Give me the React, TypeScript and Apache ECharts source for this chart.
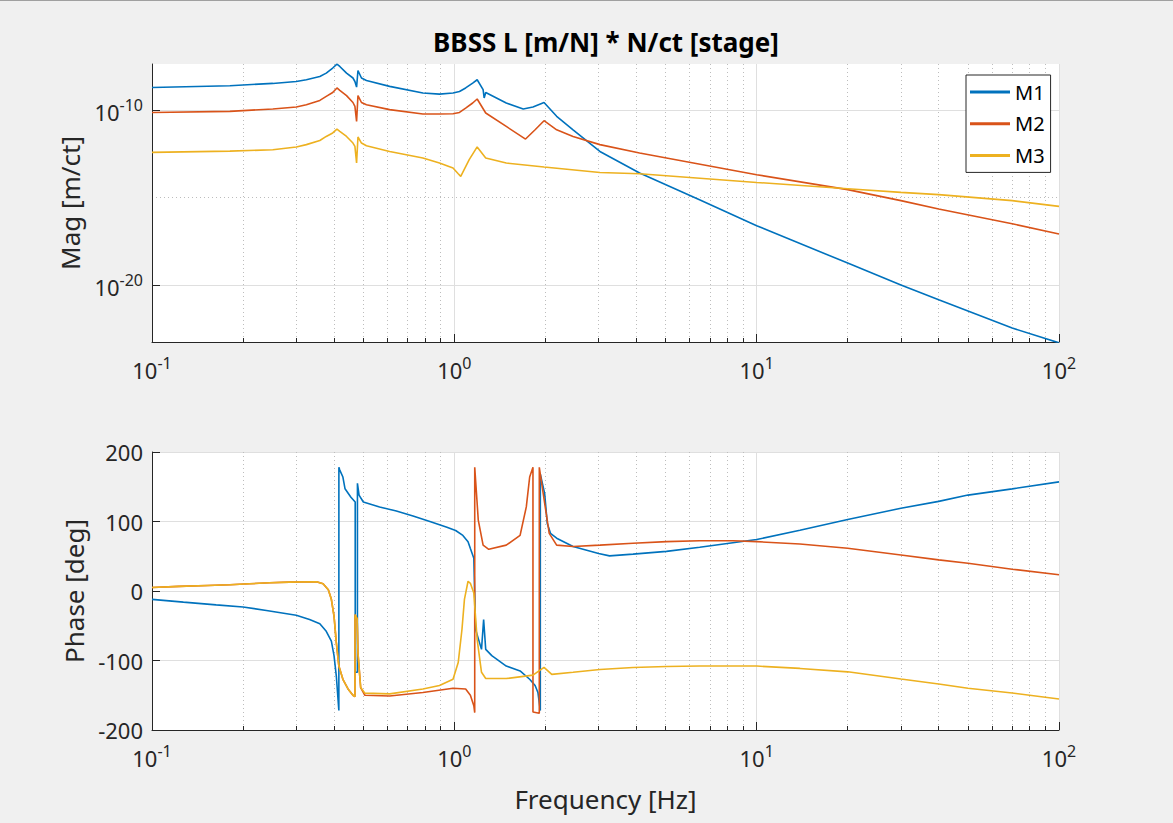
import React, { useEffect, useRef } from "react";
import * as echarts from "echarts";

// ---------- axis ticks ----------
const xDecades = [-1, 0, 1, 2];
const magTickExponents = [-20, -10];
const magMinorExponents = [-15];
const magRange = [-23.26, -7.37]; // log10 limits of magnitude axis
const phaseRange = [-200, 200];

// ---------- magnitude data [Hz] / [m/ct] ----------
const m1MagFreq = [0.1, 0.181, 0.251, 0.3, 0.324, 0.359, 0.377, 0.396, 0.409, 0.418, 0.44, 0.462, 0.469, 0.475, 0.48, 0.493, 0.512, 0.611, 0.787, 0.893, 0.99, 1.04, 1.09, 1.15, 1.19, 1.245, 1.255, 1.27, 1.485, 1.69, 1.82, 1.98, 2.18, 2.47, 3.03, 4.1, 6.47, 10, 20, 30, 40, 70, 100];
const m1Mag = [1.95e-9, 2.45e-9, 3.31e-9, 4.27e-9, 5.37e-9, 8.32e-9, 1.29e-8, 2.51e-8, 4.2e-8, 3.09e-8, 1.29e-8, 6.76e-9, 4.27e-9, 2.04e-9, 1.82e-8, 6.76e-9, 4.9e-9, 2.24e-9, 9.33e-10, 8.13e-10, 9.33e-10, 1.15e-9, 1.82e-9, 3.47e-9, 5.37e-9, 1.45e-9, 4.9e-10, 1.0e-9, 2.51e-10, 1.15e-10, 1.48e-10, 2.69e-10, 4.37e-11, 7.41e-12, 4.27e-13, 2.51e-14, 7.41e-16, 2.45e-17, 1.78e-19, 1.0e-20, 1.41e-21, 3.47e-23, 4.9e-24];

const m2MagFreq = [0.1, 0.181, 0.251, 0.3, 0.324, 0.359, 0.377, 0.396, 0.409, 0.418, 0.44, 0.462, 0.469, 0.475, 0.48, 0.493, 0.512, 0.611, 0.787, 0.893, 0.99, 1.04, 1.09, 1.15, 1.19, 1.27, 1.485, 1.72, 1.85, 1.98, 2.18, 2.47, 3.03, 4.1, 5.03, 10, 20, 30, 40, 70, 100];
const m2Mag = [7.24e-11, 8.32e-11, 1.15e-10, 1.48e-10, 2.0e-10, 3.55e-10, 6.03e-10, 1.0e-9, 1.82e-9, 1.32e-9, 6.61e-10, 2.69e-10, 1.62e-10, 2.24e-11, 6.61e-10, 2.69e-10, 2.0e-10, 1.05e-10, 5.89e-11, 5.89e-11, 6.17e-11, 7.24e-11, 1.29e-10, 2.51e-10, 4.27e-10, 6.76e-11, 1.15e-11, 2.19e-12, 7.41e-12, 2.45e-11, 7.41e-12, 3.09e-12, 1.05e-12, 3.47e-13, 1.82e-13, 2.0e-14, 2.82e-15, 6.61e-16, 2.19e-16, 3.16e-17, 8.13e-18];

const m3MagFreq = [0.1, 0.181, 0.251, 0.3, 0.324, 0.359, 0.377, 0.396, 0.409, 0.418, 0.44, 0.462, 0.469, 0.475, 0.48, 0.493, 0.512, 0.611, 0.787, 0.893, 0.99, 1.03, 1.05, 1.12, 1.19, 1.27, 1.485, 1.98, 3.03, 4.1, 10, 20, 30, 40, 70, 100];
const m3Mag = [3.8e-13, 4.47e-13, 5.37e-13, 7.76e-13, 1.05e-12, 1.82e-12, 3.09e-12, 4.9e-12, 8.13e-12, 6.03e-12, 3.09e-12, 1.29e-12, 8.32e-13, 9.33e-14, 2.88e-12, 1.29e-12, 9.12e-13, 4.27e-13, 1.82e-13, 9.33e-14, 4.9e-14, 2.29e-14, 1.62e-14, 1.45e-13, 7.76e-13, 1.82e-13, 9.33e-14, 5.5e-14, 2.69e-14, 2.29e-14, 7.24e-15, 3.16e-15, 1.95e-15, 1.45e-15, 6.61e-16, 3.09e-16];

// ---------- phase data [Hz] / [deg] ----------
const m1PhaseFreq = [0.1, 0.127, 0.163, 0.2, 0.239, 0.3, 0.332, 0.359, 0.377, 0.392, 0.4, 0.407, 0.415, 0.4151, 0.418, 0.428, 0.435, 0.455, 0.47, 0.4701, 0.478, 0.4781, 0.484, 0.5, 0.566, 0.643, 0.73, 0.83, 0.94, 1.01, 1.067, 1.11, 1.13, 1.16, 1.175, 1.23, 1.25, 1.27, 1.33, 1.485, 1.65, 1.775, 1.85, 1.89, 1.925, 1.9251, 1.99, 2.03, 2.08, 2.18, 2.47, 3.0, 3.26, 3.9, 5.03, 6.48, 8.34, 10, 13.9, 20, 30, 40, 50, 70, 100];
const m1Phase = [-12, -16, -20, -23, -28, -35, -41, -47, -58, -72, -93, -122, -172, 178, 174, 164, 147, 135, 128, -117, -117, 155, 138, 128, 121, 115, 108, 100, 92, 87, 80, 71, 61, 47, -55, -84, -41, -84, -93, -108, -115, -127, -136, -146, -172, 168, 140, 97, 83, 76, 64, 54, 50.5, 53, 57, 63, 69.5, 74, 87.5, 103, 119, 129, 138, 147, 157];

const m2PhaseFreq = [0.1, 0.123, 0.153, 0.181, 0.21, 0.245, 0.285, 0.35, 0.368, 0.383, 0.392, 0.4, 0.407, 0.415, 0.428, 0.445, 0.462, 0.469, 0.4695, 0.477, 0.48, 0.49, 0.506, 0.611, 0.787, 0.99, 1.09, 1.13, 1.16, 1.168, 1.1681, 1.2, 1.245, 1.3, 1.485, 1.65, 1.73, 1.775, 1.82, 1.8201, 1.91, 1.9101, 1.99, 2.06, 2.18, 2.47, 3.03, 3.9, 5.03, 6.48, 8.34, 10, 13.9, 20, 30, 40, 50, 70, 100];
const m2Phase = [5, 6.7, 8, 9, 10.4, 11.9, 12.8, 13.3, 10.4, 1.9, -12, -36, -74, -108, -127, -141, -150, -152, -34, -40, -89, -139, -150, -151, -146, -140, -141, -150, -165, -175, 178, 102, 66, 60, 66, 80, 121, 164, 178, -174, -176, 178, 126, 83, 66, 64, 66, 68.6, 71, 72.3, 72.3, 71, 67.6, 61.4, 51.9, 44.8, 40, 31.4, 23.3];

const m3PhaseFreq = [0.1, 0.123, 0.153, 0.181, 0.21, 0.245, 0.285, 0.35, 0.368, 0.383, 0.392, 0.4, 0.407, 0.415, 0.428, 0.445, 0.462, 0.469, 0.4695, 0.477, 0.48, 0.49, 0.506, 0.611, 0.787, 0.893, 0.99, 1.03, 1.06, 1.08, 1.11, 1.13, 1.16, 1.19, 1.23, 1.27, 1.485, 1.82, 1.98, 2.1, 2.47, 3.03, 3.9, 5.03, 6.48, 10, 13.9, 20, 30, 40, 50, 70, 100];
const m3Phase = [5, 6.7, 8, 9, 10.4, 11.9, 12.8, 13.3, 10.4, 1.9, -12, -36, -74, -108, -127, -141, -150, -152, -34, -40, -89, -139, -147, -148, -141, -136, -127, -103, -55, -12, 14, 11, -3, -70, -117, -126, -126, -121, -110, -120, -117, -113, -110, -108.6, -108, -108, -111.4, -116.3, -126.7, -133.9, -140, -146.7, -155.3];

const seriesNames = ["M1", "M2", "M3"];
const seriesColors = ["#0072BD", "#D95319", "#EDB120"];

const FONT = "'Noto Sans', sans-serif";
const AX = "#262626";
const GRIDC = "#dfdfdf";
const MINORC = "#bdbdbd";

const minorX: number[] = [];
for (const d of xDecades.slice(0, 3)) for (let k = 2; k <= 9; k++) minorX.push(d + Math.log10(k));

const toXY = (f: number[], v: number[]) => f.map((x, i) => [Math.log10(x), v[i]]);

const expRich = {
  b: { fontSize: 22, lineHeight: 26, verticalAlign: "bottom", color: AX, fontFamily: FONT },
  s: { fontSize: 16, lineHeight: 12, verticalAlign: "top", color: AX, fontFamily: FONT },
};

function mainX(gridIndex: number, withName: boolean) {
  return {
    type: "value",
    gridIndex,
    min: xDecades[0],
    max: xDecades[xDecades.length - 1],
    interval: 1,
    axisLine: { show: true, onZero: false, lineStyle: { color: AX, width: 1 } },
    axisTick: { show: true, inside: true, length: 8, lineStyle: { color: AX } },
    axisLabel: { margin: 13, formatter: (v: number) => `{b|10}{s|${v}}`, rich: expRich },
    splitLine: { show: true, lineStyle: { color: GRIDC, width: 1 } },
    name: withName ? "Frequency [Hz]" : "",
    nameLocation: "middle",
    nameGap: 56,
    nameTextStyle: { fontSize: 26, color: AX, fontFamily: FONT },
  };
}
function minorXAxis(gridIndex: number) {
  return {
    type: "value",
    gridIndex,
    min: xDecades[0],
    max: xDecades[xDecades.length - 1],
    position: "bottom",
    axisLine: { show: false, onZero: false },
    axisTick: { show: true, inside: true, length: 4, customValues: minorX, lineStyle: { color: AX } },
    axisLabel: { show: false, customValues: minorX },
    splitLine: { show: true, lineStyle: { color: MINORC, width: 1, type: [1, 3] } },
  };
}

export default function App() {
  const ref = useRef<HTMLDivElement>(null);
  useEffect(() => {
    document.body.style.margin = "0";
    document.body.style.background = "#f0f0f0";
    const chart = echarts.init(ref.current!, null, { renderer: "svg" });
    const mkSeries = (pairs: number[][][], axis: number, isMag: boolean) =>
      pairs.map(([f, v], i) => ({
        name: seriesNames[i],
        type: "line",
        xAxisIndex: axis,
        yAxisIndex: axis,
        data: toXY(f, isMag ? v.map((m) => Math.log10(m)) : v),
        showSymbol: false,
        symbol: "none",
        color: seriesColors[i],
        lineStyle: { width: 1.6, color: seriesColors[i] },
        z: 3 + i,
      }));
    const magSeries = mkSeries(
      [
        [m1MagFreq, m1Mag],
        [m2MagFreq, m2Mag],
        [m3MagFreq, m3Mag],
      ],
      0,
      true
    );
    const phaseSeries = mkSeries(
      [
        [m1PhaseFreq, m1Phase],
        [m2PhaseFreq, m2Phase],
        [m3PhaseFreq, m3Phase],
      ],
      2,
      false
    );

    chart.setOption({
      animation: false,
      backgroundColor: "#f0f0f0",
      textStyle: { fontFamily: FONT },
      title: {
        text: "BBSS L [m/N] * N/ct [stage]",
        left: 601,
        top: 24,
        textAlign: "center",
        textStyle: { fontSize: 26, fontWeight: "bold", color: "#000", fontFamily: FONT },
      },
      graphic: [
        { type: "rect", left: 0, top: 0, shape: { width: 1173, height: 1 }, style: { fill: "#a0a0a0" } },
      ],
      legend: {
        data: seriesNames,
        orient: "vertical",
        left: 966,
        top: 75,
        padding: [6, 6, 6, 4],
        itemWidth: 40,
        itemHeight: 3,
        itemGap: 9.7,
        icon: "rect",
        backgroundColor: "#fff",
        borderColor: AX,
        borderWidth: 1,
        borderRadius: 0,
        textStyle: { fontSize: 20, lineHeight: 22, color: "#000", fontFamily: FONT },
      },
      grid: [
        { left: 152, top: 64, width: 907, height: 278, show: true, backgroundColor: "#fff", borderWidth: 0 },
        { left: 152, top: 452, width: 907, height: 278, show: true, backgroundColor: "#fff", borderWidth: 0 },
      ],
      xAxis: [mainX(0, false), minorXAxis(0), mainX(1, true), minorXAxis(1)],
      yAxis: [
        {
          type: "value",
          gridIndex: 0,
          min: magRange[0],
          max: magRange[1],
          axisLine: { show: true, onZero: false, lineStyle: { color: AX } },
          axisTick: { show: true, inside: true, length: 8, customValues: magTickExponents, lineStyle: { color: AX } },
          axisLabel: { margin: 9, customValues: magTickExponents, formatter: (v: number) => `{b|10}{s|${v}}`, rich: expRich },
          splitLine: { show: true, lineStyle: { color: GRIDC } },
          name: "Mag [m/ct]",
          nameLocation: "middle",
          nameGap: 69,
          nameTextStyle: { fontSize: 26, color: AX, fontFamily: FONT },
        },
        {
          type: "value",
          gridIndex: 0,
          position: "left",
          min: magRange[0],
          max: magRange[1],
          axisLine: { show: false },
          axisTick: { show: false, customValues: magMinorExponents },
          axisLabel: { show: false, customValues: magMinorExponents },
          splitLine: { show: true, lineStyle: { color: MINORC, type: [1, 3] } },
        },
        {
          type: "value",
          gridIndex: 1,
          min: phaseRange[0],
          max: phaseRange[1],
          interval: 100,
          axisLine: { show: true, onZero: false, lineStyle: { color: AX } },
          axisTick: { show: true, inside: true, length: 8, lineStyle: { color: AX } },
          axisLabel: { margin: 9, fontSize: 22, color: AX, fontFamily: FONT },
          splitLine: { show: true, lineStyle: { color: GRIDC } },
          name: "Phase [deg]",
          nameLocation: "middle",
          nameGap: 62,
          nameTextStyle: { fontSize: 26, color: AX, fontFamily: FONT },
        },
      ],
      series: [...magSeries, ...phaseSeries],
    });
    return () => chart.dispose();
  }, []);
  return <div ref={ref} style={{ width: 1173, height: 823 }} />;
}
